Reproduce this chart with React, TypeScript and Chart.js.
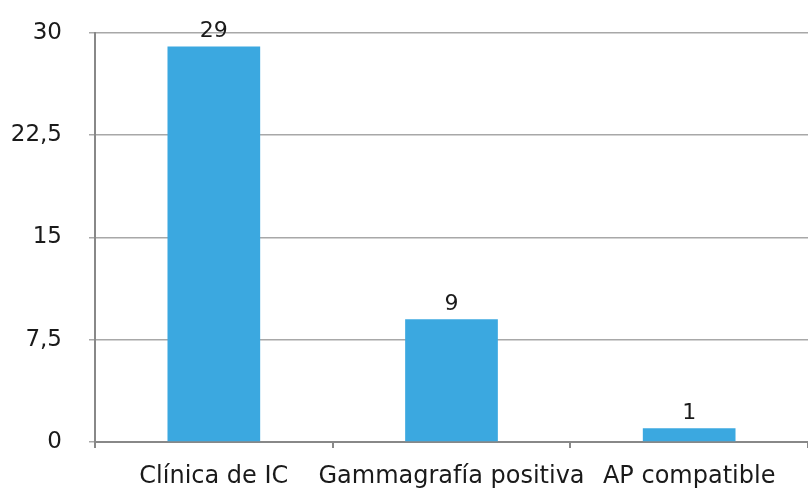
import React, { useEffect, useRef } from "react";
import { Chart, registerables } from "chart.js";

Chart.register(...registerables);

const categories = ["Clínica de IC", "Gammagrafía positiva", "AP compatible"];
const values = [29, 9, 1];
const yTicks = [0, 7.5, 15, 22.5, 30];

const FONT = "'DejaVu Sans', sans-serif";

const valueLabels = {
  id: "valueLabels",
  afterDatasetsDraw(chart: any) {
    const ctx = chart.ctx;
    const meta = chart.getDatasetMeta(0);
    ctx.save();
    ctx.font = `22px ${FONT}`;
    ctx.fillStyle = "#1a1a1a";
    ctx.textAlign = "center";
    ctx.textBaseline = "alphabetic";
    meta.data.forEach((bar: any, i: number) => {
      ctx.fillText(String(values[i]), bar.x, bar.y - 9);
    });
    ctx.restore();
  },
};

export default function App() {
  const ref = useRef<HTMLCanvasElement>(null);
  useEffect(() => {
    const chart = new Chart(ref.current!, {
      type: "bar",
      data: {
        labels: categories,
        datasets: [
          {
            data: values,
            backgroundColor: "#3ba8e0",
            barPercentage: 0.39,
            categoryPercentage: 1,
          },
        ],
      },
      options: {
        animation: false,
        responsive: false,
        layout: { padding: 0 },
        plugins: { legend: { display: false }, tooltip: { enabled: false } },
        scales: {
          x: {
            afterFit: (s: any) => {
              s.height = 48;
            },
            grid: {
              offset: true,
              drawOnChartArea: false,
              drawTicks: true,
              tickLength: 6,
              color: "#888",
              lineWidth: 2,
            },
            border: { color: "#888", width: 2 },
            ticks: {
              padding: 14,
              color: "#1a1a1a",
              font: { family: FONT, size: 24 },
              maxRotation: 0,
              autoSkip: false,
            },
          },
          y: {
            min: 0,
            max: 30,
            afterFit: (s: any) => {
              s.width = 95;
            },
            afterBuildTicks: (s: any) => {
              s.ticks = yTicks.map((v) => ({ value: v }));
            },
            grid: {
              color: "#a8a8a8",
              lineWidth: 1.5,
              tickLength: 6,
            },
            border: { color: "#888", width: 2 },
            ticks: {
              padding: 27,
              color: "#1a1a1a",
              font: { family: FONT, size: 23 },
              callback: (v: any) => String(v).replace(".", ","),
            },
          },
        },
      },
      plugins: [valueLabels],
    });
    return () => chart.destroy();
  }, []);
  return (
    <div style={{ position: "fixed", left: 0, top: -8, width: 808, height: 498, background: "#fff" }}>
      <canvas ref={ref} width={808} height={498} />
    </div>
  );
}
